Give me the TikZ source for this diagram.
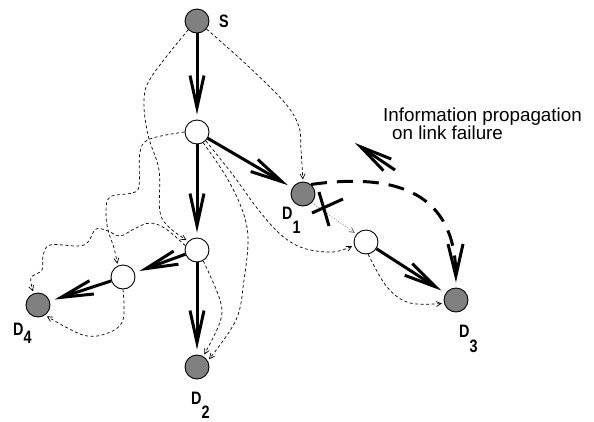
\documentclass[tikz,border=0pt]{standalone}
\usepackage{fontspec}
\setmainfont{Liberation Sans}
\newfontface\lblfont[FakeStretch=0.8]{Liberation Sans Bold}
\usetikzlibrary{arrows.meta}

\begin{document}
\begin{tikzpicture}[x=1pt,y=-1pt,
  router/.style={circle, draw, line width=0.9pt, minimum size=24pt, inner sep=0pt},
  dest/.style={router, fill=gray},
  relay/.style={router, fill=white},
  tree/.style={line width=3pt, -{Straight Barb[length=32pt,width=14pt]}, shorten >=5pt},
  backup/.style={line width=0.7pt, dash pattern=on 3pt off 2.5pt,
    -{Straight Barb[length=5pt,width=5pt]}, shorten >=2pt},
  probe/.style={line width=0.7pt, gray!70!black, dotted,
    -{Straight Barb[length=5pt,width=5pt]}, shorten >=2pt},
  failpath/.style={line width=3pt, dash pattern=on 16pt off 10pt,
    -{Straight Barb[length=32pt,width=15pt]}, shorten >=5pt},
  cross/.style={line width=3pt},
  lbl/.style={font=\lblfont\fontsize{18}{18}\selectfont, inner sep=0pt, anchor=base west},
  note/.style={font=\fontsize{18.8}{18.8}\selectfont, inner sep=0pt, anchor=base west},
]
\useasboundingbox (0,0) rectangle (594,421);

% routers
\node[dest]  (S)  at (197,21)  {};
\node[relay] (A)  at (197,132) {};
\node[dest]  (D1) at (303,194) {};
\node[relay] (B)  at (366,242) {};
\node[dest]  (D3) at (456,300) {};
\node[relay] (C)  at (197,250) {};
\node[relay] (E)  at (123,277) {};
\node[dest]  (D4) at (38,305)  {};
\node[dest]  (D2) at (197,367) {};

% labels
\node[lbl] (Slbl)  at (219,27)  {S};
\node[lbl] (D1lbl) at (282,219) {D\raisebox{-14pt}{1}};
\node[lbl] (D2lbl) at (191,404) {D\raisebox{-14pt}{2}};
\node[lbl] (D3lbl) at (459,337) {D\raisebox{-15pt}{3}};
\node[lbl] (D4lbl) at (13,335)  {D\raisebox{-8pt}{4}};

% multicast tree
\draw[tree] (S) -- (A);
\draw[tree] (A) -- (D1);
\draw[tree] (A) -- (C);
\draw[tree] (C) -- (D2);
\draw[tree] (C) -- (E);
\draw[tree] (E) -- (D4);
\draw[tree] (B) -- (D3);

% backup routes
\draw[backup] plot[smooth, tension=0.6] coordinates
  {(S.-40) (248,66) (285,103) (299,127) (301,150) (D1.north)};
\draw[backup] plot[smooth, tension=0.6] coordinates
  {(S.-135) (152,76) (144,100) (148,135) (159,170) (160,212) (170,228) (C.135)};
\draw[backup] plot[smooth, tension=0.6] coordinates
  {(A.180) (150,139) (140,152) (139,186) (132,193) (110,197) (106,212) (108,230) (114,248) (E.115)};
\draw[backup] plot[smooth, tension=0.6] coordinates
  {(C.160) (166,229) (150,223) (134,229) (120,236) (108,231) (96,229) (88,242) (78,246)
   (50,245) (43,256) (42,270) (31,278) (D4.110)};
\draw[backup] plot[smooth, tension=0.6] coordinates
  {(E.-90) (123,320) (108,333) (83,335) (D4.-55)};
\draw[backup] plot[smooth, tension=0.6] coordinates
  {(C.-60) (220,300) (220,322) (D2.60)};
\draw[backup] plot[smooth, tension=0.6] coordinates
  {(A.-60) (227,178) (243,212) (248,240) (244,280) (236,320) (D2.30)};
\draw[backup] plot[smooth, tension=0.6] coordinates
  {(A.-45) (233,175) (257,208) (280,234) (303,248) (333,252) (B.195)};
\draw[backup] plot[smooth, tension=0.6] coordinates
  {(B.-80) (387,287) (410,303) (D3.195)};

% failed link and its probe
\draw[probe] (D1.-45) -- (B.140);
\coordinate (x1a) at (312,213);
\coordinate (x1b) at (343,199);
\coordinate (x2a) at (319,192);
\coordinate (x2b) at (329,226);
\draw[cross] (x1a) -- (x1b);
\draw[cross] (x2a) -- (x2b);

% failure notification
\draw[failpath] (D1.50) .. controls (400,172) and (455,195) .. (D3.north);

% legend
\coordinate (infotail) at (395,170);
\coordinate (infohead) at (355,143);
\draw[tree, shorten >=0pt] (infotail) -- (infohead);
\node[note] (note1) at (383,121.5) {Information propagation};
\node[note] (note2) at (392,139.5) {on link failure};
\end{tikzpicture}
\end{document}
